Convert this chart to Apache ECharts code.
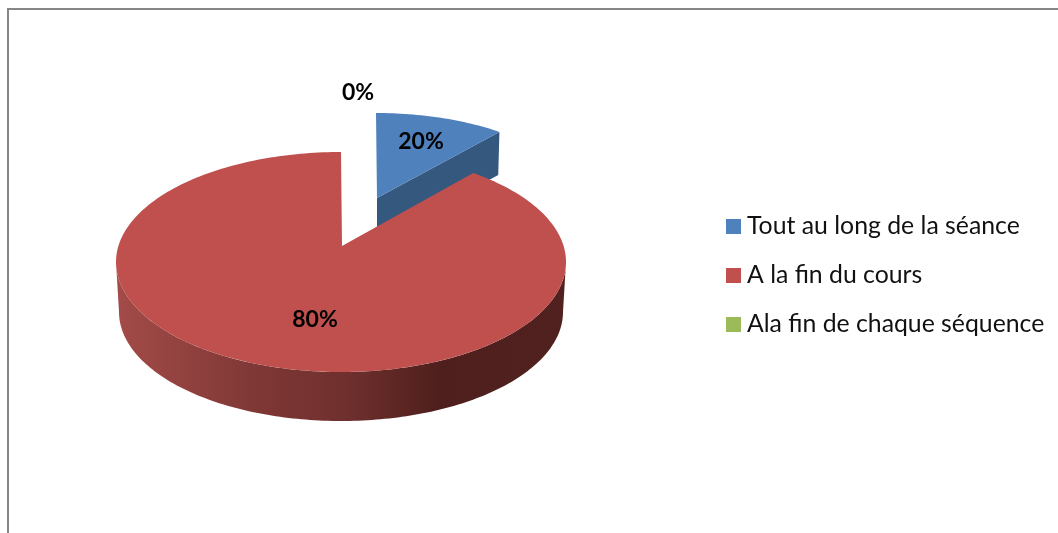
<!DOCTYPE html>
<html>
<head>
<meta charset="utf-8">
<title>Pie</title>
<style>
  html, body { margin: 0; padding: 0; background: #fff; }
  #chart { width: 1058px; height: 533px; }
</style>
<script src="https://cdn.jsdelivr.net/npm/echarts@6/dist/echarts.min.js"></script>
</head>
<body>
<div id="chart"></div>
<script>
var categories = ['Tout au long de la séance', 'A la fin du cours', 'Ala fin de chaque séquence'];
var shares = [20, 80, 0];

var FONT = 'Lato, "Open Sans", sans-serif';
var colors = ['#4F81BD', '#C0504D', '#9BBB59'];
var cutWallColor = '#35587F';
var SQUASH = 0.236;  // the 3d view foreshortens the angles near the top of the pie

// one entry per slice: the exploded ellipse and where its label sits
var places = [
    {apexX: 377, apexY: 198, cx: 376, cy: 212, rx: 210, ry: 99, depth: 43, shrink: 2, labelX: 421, labelY: 142},
    {apexX: 342, apexY: 246, cx: 341, cy: 262, rx: 225, ry: 110, depth: 50, shrink: 3, labelX: 315, labelY: 320},
    {apexX: 358, apexY: 150, cx: 358, cy: 150, rx: 0, ry: 0, depth: 0, shrink: 0, labelX: 358, labelY: 93}
];

var total = shares.reduce(function (a, b) { return a + b; }, 0);

// share angle -> angle on the drawn ellipse
function viewAngle(t) {
    var a = Math.atan2(SQUASH * Math.sin(t), Math.cos(t));
    return a + 2 * Math.PI * Math.round((t - a) / (2 * Math.PI));
}

function arc(p, from, to, rx, ry, cy) {
    var pts = [];
    var n = Math.max(2, Math.ceil(Math.abs(to - from) / 0.02));
    for (var i = 0; i <= n; i++) {
        var a = from + (to - from) * i / n;
        pts.push([p.cx + rx * Math.sin(a), cy - ry * Math.cos(a)]);
    }
    return pts;
}

function sideGradient() {
    return new echarts.graphic.LinearGradient(0, 0, 1, 0, [
        {offset: 0, color: '#A34B48'},
        {offset: 0.3, color: '#803836'},
        {offset: 0.52, color: '#6E2F2D'},
        {offset: 0.72, color: '#4E1F1C'},
        {offset: 1, color: '#50211E'}
    ]);
}

function renderSlice(index) {
    return function (params, api) {
        var value = api.value(0);
        var p = places[index];
        var before = 0;
        for (var i = 0; i < index; i++) before += shares[i];
        var children = [];

        if (value > 0) {
            var from = viewAngle(before / total * 2 * Math.PI);
            var to = viewAngle((before + value) / total * 2 * Math.PI);
            var lowY = p.cy + p.depth;

            // rim of the pie, only on the front half
            var rimFrom = Math.max(from, Math.PI / 2);
            var rimTo = Math.min(to, 3 * Math.PI / 2);
            if (rimTo > rimFrom) {
                var rim = arc(p, rimFrom, rimTo, p.rx, p.ry, p.cy)
                    .concat(arc(p, rimTo, rimFrom, p.rx - p.shrink, p.ry - 1, lowY));
                children.push({type: 'polygon', shape: {points: rim}, style: {fill: sideGradient()}});
            }

            // cut face, seen only when the slice ends on the upper right
            if (to < Math.PI / 2) {
                var corner = arc(p, to, to, p.rx, p.ry, p.cy)[0];
                var low = arc(p, to, to, p.rx - p.shrink, p.ry, lowY)[0];
                children.push({
                    type: 'polygon',
                    shape: {points: [[p.apexX, p.apexY], corner, low, [p.apexX, p.apexY + p.depth]]},
                    style: {fill: cutWallColor}
                });
            }

            var face = [[p.apexX, p.apexY]].concat(arc(p, from, to, p.rx, p.ry, p.cy));
            children.push({type: 'polygon', shape: {points: face}, style: {fill: colors[index]}});
        }

        children.push({
            type: 'text',
            z2: 10,
            style: {
                x: p.labelX, y: p.labelY,
                text: value + '%',
                fill: '#000',
                font: 'bold 23px ' + FONT,
                align: 'center',
                verticalAlign: 'middle'
            }
        });
        return {type: 'group', children: children};
    };
}

var myChart = echarts.init(document.getElementById('chart'), null, {renderer: 'canvas'});

var option = {
    animation: false,
    backgroundColor: '#fff',
    legend: {
        orient: 'vertical',
        left: 726,
        top: 214,
        padding: 0,
        icon: 'rect',
        itemWidth: 15,
        itemHeight: 15,
        itemGap: 24,
        itemStyle: {borderWidth: 0},
        textStyle: {fontFamily: FONT, fontSize: 24.8, color: '#111', padding: [0, 0, 0, 1]},
        data: categories
    },
    graphic: [{
        type: 'polyline',
        silent: true,
        shape: {points: [[8, 540], [8, 9], [1065, 9]]},
        style: {stroke: '#868686', lineWidth: 2, fill: null}
    }],
    series: categories.map(function (name, i) {
        return {
            type: 'custom',
            name: name,
            coordinateSystem: 'none',
            itemStyle: {color: colors[i]},
            renderItem: renderSlice(i),
            data: [[shares[i]]]
        };
    })
};

myChart.setOption(option);
</script>
</body>
</html>
